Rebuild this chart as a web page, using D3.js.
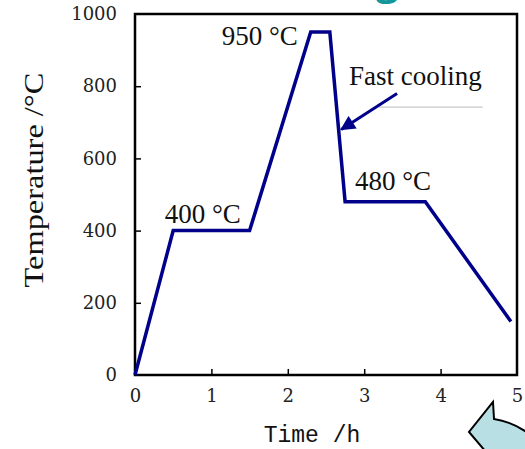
<!DOCTYPE html>
<html>
<head>
<meta charset="utf-8">
<script src="https://cdn.jsdelivr.net/npm/d3@7"></script>
<style>
body { margin: 0; background: #fff; }
svg { display: block; }
.tick text { font-family: 'DejaVu Serif', serif; font-size: 18px; fill: #222; }
.lbl { font-family: 'Liberation Serif', 'Times New Roman', serif; font-size: 27px; fill: #111; }
</style>
</head>
<body>
<svg></svg>
<script>
// heat treatment schedule
var timeH = [0, 0.5, 1.5, 2.3, 2.55, 2.75, 3.8, 4.92];
var tempC = [0, 400, 400, 950, 950, 480, 480, 148];
var xTicks = [0, 1, 2, 3, 4, 5];
var yTicks = [0, 200, 400, 600, 800, 1000];
var notes = [
	{ t: 0.39, v: 421, text: '400 °C', anchor: 'start' },
	{ t: 2.13, v: 914, text: '950 °C', anchor: 'end' },
	{ t: 2.88, v: 512, text: '480 °C', anchor: 'start' },
	{ t: 2.8, v: 803, text: 'Fast cooling', anchor: 'start' }
];

var W = 525, H = 449;
var svg = d3.select('svg').attr('width', W).attr('height', H);

var x = d3.scaleLinear().domain([0, 5]).range([135, 517]);
var y = d3.scaleLinear().domain([0, 1000]).range([375, 14]);

// bit of the slide title peeking in at the top
svg.append('text')
	.attr('x', 376).attr('y', -5)
	.attr('font-family', 'Open Sans, sans-serif')
	.attr('font-weight', 'bold')
	.attr('font-size', 40)
	.attr('fill', '#12989a')
	.text('g');

var g = svg.append('g');

g.append('g')
	.attr('transform', 'translate(0,' + y(0) + ')')
	.call(d3.axisBottom(x).tickValues(xTicks).tickFormat(d3.format('d')).tickSizeInner(-6).tickSizeOuter(0).tickPadding(14))
	.call(function(s) { s.select('.domain').remove(); });

g.append('g')
	.attr('transform', 'translate(' + x(0) + ',0)')
	.call(d3.axisLeft(y).tickValues(yTicks).tickFormat(d3.format('d')).tickSizeInner(-6).tickSizeOuter(0).tickPadding(18))
	.call(function(s) { s.select('.domain').remove(); });

g.selectAll('.tick line').attr('stroke', '#000').attr('stroke-width', 1.5);
g.selectAll('.tick').filter(function(d) { return d === 0 || d === 5 || d === 1000; })
	.select('line').remove();

g.append('rect')
	.attr('x', x(0)).attr('y', y(1000))
	.attr('width', x(5) - x(0)).attr('height', y(0) - y(1000))
	.attr('fill', 'none').attr('stroke', '#000').attr('stroke-width', 2.5);

var line = d3.line()
	.x(function(d, i) { return x(timeH[i]); })
	.y(function(d) { return y(d); });

g.append('path')
	.datum(tempC)
	.attr('d', line)
	.attr('fill', 'none')
	.attr('stroke', '#00008b')
	.attr('stroke-width', 3.5)
	.attr('stroke-linejoin', 'miter');

// grey guide under the label
g.append('line')
	.attr('x1', x(3.19)).attr('x2', x(4.55))
	.attr('y1', y(742)).attr('y2', y(742))
	.attr('stroke', '#c8c8c8').attr('stroke-width', 1.2);

// arrow toward the cooling segment
svg.append('defs').append('marker')
	.attr('id', 'head')
	.attr('viewBox', '0 0 10 10')
	.attr('refX', 9).attr('refY', 5)
	.attr('markerWidth', 5.5).attr('markerHeight', 5)
	.attr('markerUnits', 'strokeWidth')
	.attr('orient', 'auto')
	.append('path').attr('d', 'M0,0L10,5L0,10Z').attr('fill', '#00008b');

g.append('line')
	.attr('x1', x(3.43)).attr('y1', y(780))
	.attr('x2', x(2.7)).attr('y2', y(680))
	.attr('stroke', '#00008b').attr('stroke-width', 3)
	.attr('marker-end', 'url(#head)');

g.selectAll('.lbl').data(notes).enter().append('text')
	.attr('class', 'lbl')
	.attr('x', function(d) { return x(d.t); })
	.attr('y', function(d) { return y(d.v); })
	.attr('text-anchor', function(d) { return d.anchor; })
	.text(function(d) { return d.text; });

svg.append('text')
	.attr('transform', 'translate(43,180) rotate(-90) scale(1.2,1)')
	.attr('text-anchor', 'middle')
	.attr('font-family', 'Liberation Serif, serif')
	.attr('font-size', 27)
	.attr('fill', '#111')
	.text('Temperature /°C');

svg.append('text')
	.attr('x', 312).attr('y', 442)
	.attr('text-anchor', 'middle')
	.attr('font-family', 'Liberation Mono, monospace')
	.attr('font-size', 23)
	.attr('fill', '#111')
	.text('Time /h');

// callout bubble in the corner
svg.append('path')
	.attr('d', 'M493,402 L494,419 Q514,422 532,436 L532,452 L486,452 L469,432 Z')
	.attr('fill', '#b8e0e4')
	.attr('stroke', '#000')
	.attr('stroke-width', 2);
</script>
</body>
</html>
